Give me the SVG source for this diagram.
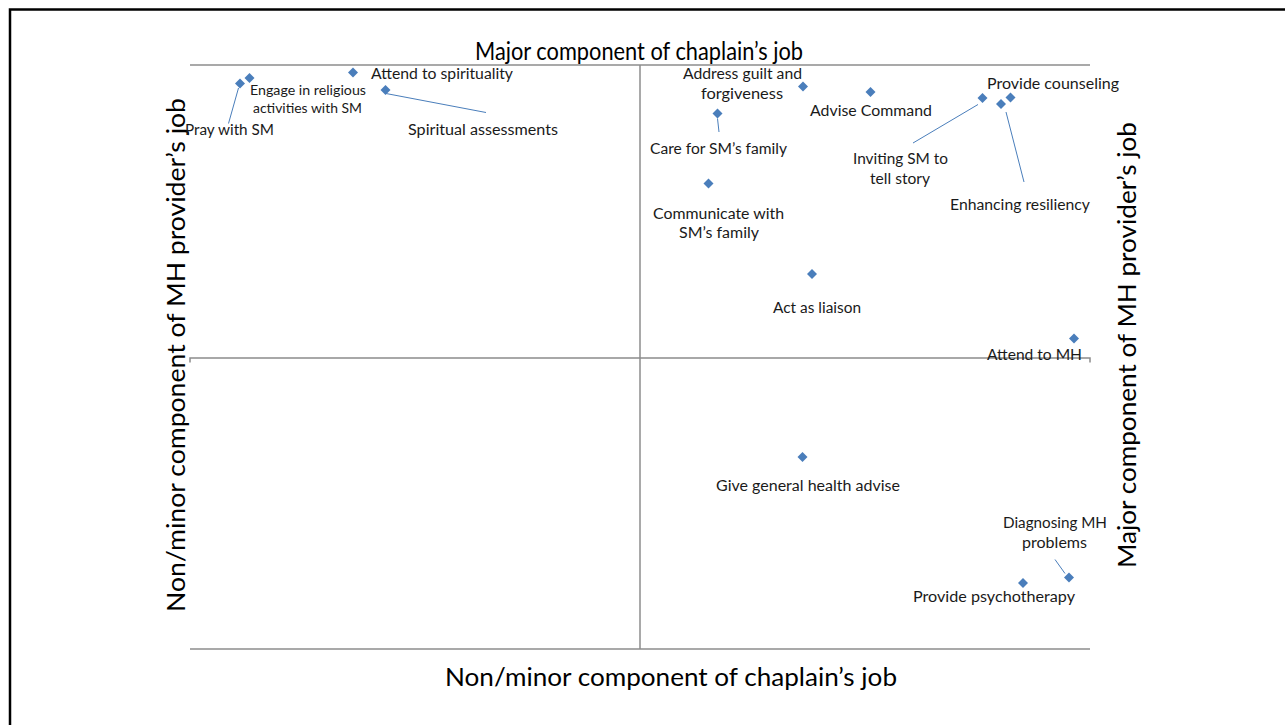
<svg xmlns="http://www.w3.org/2000/svg" xmlns:xlink="http://www.w3.org/1999/xlink" width="1285" height="725" viewBox="0 0 1285 725">
<style>
.frame{stroke:#000;stroke-width:2.5;fill:none}
.axis{stroke:#8c8c8c;stroke-width:1.5;fill:none}
.lead{stroke:#4a7ebb;stroke-width:1;fill:none}
.mk{fill:#4a7ebb}
.lbl{font-family:Lato,"Open Sans","Liberation Sans",sans-serif;font-size:14.5px;fill:#1a1a1a}
.sm{font-size:13.5px}
.ax{font-family:Lato,"Open Sans","Liberation Sans",sans-serif;font-size:24.5px;fill:#000}
</style>
<defs>
<path id="d" d="M0,-5 L5,0 L0,5 L-5,0 Z"/>
</defs>
<rect width="1285" height="725" fill="#fff"/>
<g id="frame">
<path class="frame" d="M1285,9.5 H10 V725"/>
</g>
<g id="axes">
<path class="axis" d="M190,65 H1090"/>
<path class="axis" d="M190,649 H1090"/>
<path class="axis" d="M190,362.5 V358 H1090 V362.5"/>
<path class="axis" d="M640,65 V649"/>
<text class="ax" x="475" y="59.5" textLength="328" lengthAdjust="spacingAndGlyphs">Major component of chaplain’s job</text>
<text class="ax" x="445" y="686" textLength="452" lengthAdjust="spacingAndGlyphs">Non/minor component of chaplain’s job</text>
<text class="ax" transform="translate(185,355) rotate(-90)" x="-257" y="0" textLength="514" lengthAdjust="spacingAndGlyphs">Non/minor component of MH provider’s job</text>
<text class="ax" transform="translate(1136,345) rotate(-90)" x="-223" y="0" textLength="446" lengthAdjust="spacingAndGlyphs">Major component of MH provider’s job</text>
</g>
<g id="connectors">
<line class="lead" x1="238.5" y1="88" x2="228.5" y2="123.5"/>
<line class="lead" x1="386" y1="93.5" x2="486" y2="112.5"/>
<line class="lead" x1="717.5" y1="118.5" x2="719" y2="132"/>
<line class="lead" x1="978" y1="104.5" x2="913" y2="143"/>
<line class="lead" x1="1006" y1="112" x2="1024" y2="182"/>
<line class="lead" x1="1055" y1="559.5" x2="1065" y2="573.5"/>
</g>
<g id="pray">
<use href="#d" class="mk" x="240" y="83.5"/>
<text class="lbl" x="185" y="135" textLength="89" lengthAdjust="spacingAndGlyphs">Pray with SM</text>
</g>
<g id="engage">
<use href="#d" class="mk" x="249.5" y="78"/>
<text class="lbl sm" x="250" y="95" textLength="116" lengthAdjust="spacingAndGlyphs">Engage in religious</text>
<text class="lbl sm" x="253" y="113" textLength="109" lengthAdjust="spacingAndGlyphs">activities with SM</text>
</g>
<g id="attend-spirituality">
<use href="#d" class="mk" x="353" y="72.5"/>
<text class="lbl" x="371" y="78.5" textLength="142" lengthAdjust="spacingAndGlyphs">Attend to spirituality</text>
</g>
<g id="spiritual-assessments">
<use href="#d" class="mk" x="385.5" y="90"/>
<text class="lbl" x="408" y="134.5" textLength="150" lengthAdjust="spacingAndGlyphs">Spiritual assessments</text>
</g>
<g id="address-guilt">
<use href="#d" class="mk" x="803" y="86.5"/>
<text class="lbl" x="683" y="78.5" textLength="119" lengthAdjust="spacingAndGlyphs">Address guilt and</text>
<text class="lbl" x="701" y="98.5" textLength="82" lengthAdjust="spacingAndGlyphs">forgiveness</text>
</g>
<g id="advise-command">
<use href="#d" class="mk" x="870.5" y="92"/>
<text class="lbl" x="810" y="116" textLength="122" lengthAdjust="spacingAndGlyphs">Advise Command</text>
</g>
<g id="care-family">
<use href="#d" class="mk" x="717.5" y="113.5"/>
<text class="lbl" x="650" y="154" textLength="137" lengthAdjust="spacingAndGlyphs">Care for SM’s family</text>
</g>
<g id="communicate-family">
<use href="#d" class="mk" x="708.5" y="183.5"/>
<text class="lbl" x="653" y="218.5" textLength="131" lengthAdjust="spacingAndGlyphs">Communicate with</text>
<text class="lbl" x="679" y="238" textLength="80" lengthAdjust="spacingAndGlyphs">SM’s family</text>
</g>
<g id="inviting-story">
<use href="#d" class="mk" x="982.5" y="98"/>
<text class="lbl" x="853" y="163.5" textLength="95" lengthAdjust="spacingAndGlyphs">Inviting SM to</text>
<text class="lbl" x="870" y="183.5" textLength="60" lengthAdjust="spacingAndGlyphs">tell story</text>
</g>
<g id="provide-counseling">
<use href="#d" class="mk" x="1010.5" y="97.5"/>
<text class="lbl" x="987" y="88.5" textLength="132" lengthAdjust="spacingAndGlyphs">Provide counseling</text>
</g>
<g id="enhancing-resiliency">
<use href="#d" class="mk" x="1001" y="104"/>
<text class="lbl" x="950" y="210" textLength="140" lengthAdjust="spacingAndGlyphs">Enhancing resiliency</text>
</g>
<g id="act-liaison">
<use href="#d" class="mk" x="812" y="274"/>
<text class="lbl" x="773" y="312.5" textLength="88" lengthAdjust="spacingAndGlyphs">Act as liaison</text>
</g>
<g id="attend-mh">
<use href="#d" class="mk" x="1074" y="338.5"/>
<text class="lbl" x="987" y="359.5" textLength="95" lengthAdjust="spacingAndGlyphs">Attend to MH</text>
</g>
<g id="general-health">
<use href="#d" class="mk" x="802.5" y="457"/>
<text class="lbl" x="716" y="490.5" textLength="184" lengthAdjust="spacingAndGlyphs">Give general health advise</text>
</g>
<g id="diagnosing-mh">
<use href="#d" class="mk" x="1069" y="577.5"/>
<text class="lbl" x="1003" y="527.5" textLength="104" lengthAdjust="spacingAndGlyphs">Diagnosing MH</text>
<text class="lbl" x="1022" y="547.5" textLength="65" lengthAdjust="spacingAndGlyphs">problems</text>
</g>
<g id="psychotherapy">
<use href="#d" class="mk" x="1023" y="583"/>
<text class="lbl" x="913" y="602" textLength="162" lengthAdjust="spacingAndGlyphs">Provide psychotherapy</text>
</g>
</svg>
